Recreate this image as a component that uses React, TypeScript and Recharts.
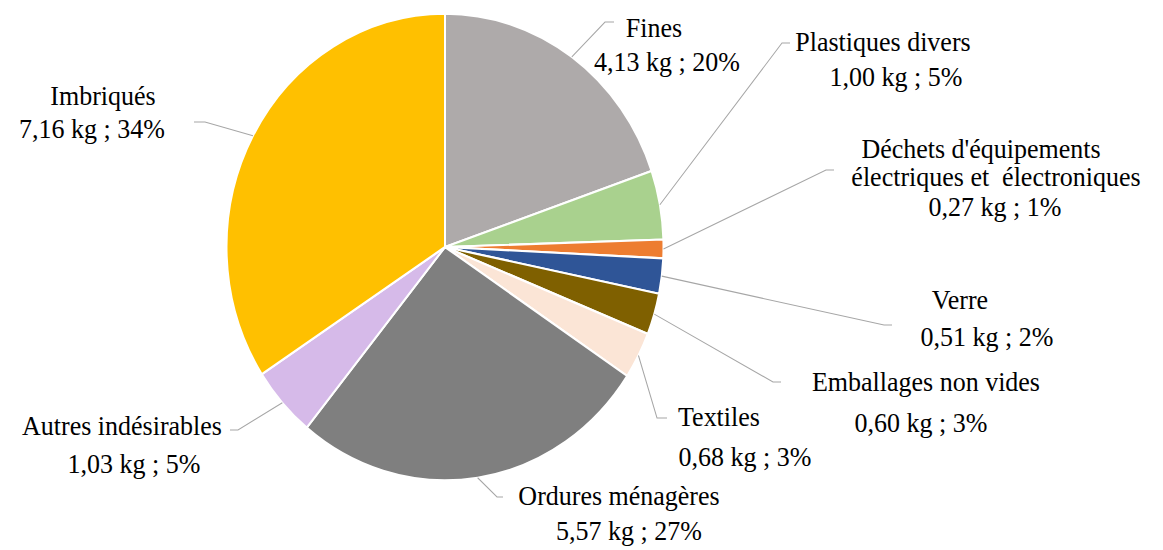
import { PieChart, Pie, Cell } from "recharts"

// waste composition, kg per sample
const categories = [
  "Fines",
  "Plastiques divers",
  "Déchets d'équipements électriques et  électroniques",
  "Verre",
  "Emballages non vides",
  "Textiles",
  "Ordures ménagères",
  "Autres indésirables",
  "Imbriqués",
]
const weightsKg = [4.13, 1.0, 0.27, 0.51, 0.6, 0.68, 5.57, 1.03, 7.16]
const sliceColors = ["#AEAAAA", "#A9D18E", "#ED7D31", "#2F5597", "#7F6000", "#FBE5D6", "#7F7F7F", "#D6BAE9", "#FFC000"]

const data = categories.map((name, i) => ({ name, value: weightsKg[i] }))

// the source picture is a bit taller than wide, so the chart gets stretched vertically
const K = 1.068
const FONT = 26
const SERIF = "Liberation Serif"

// label placement (picture pixels): line centres, baselines, leader elbow and end
const labelLayout = [
  { xs: [654, 667], ys: [37, 71], ex: 605, ey: 22, hx: 614 },
  { xs: [883, 896], ys: [51, 86], ex: 782, ey: 43, hx: 790 },
  { xs: [981, 996, 995], ys: [158, 186, 216], wrap: 2, ex: 826, ey: 170, hx: 834 },
  { xs: [960, 987], ys: [309, 346], ex: 884, ey: 325, hx: 892 },
  { xs: [926, 921], ys: [391, 432], ex: 773, ey: 382, hx: 781 },
  { xs: [719, 745], ys: [426, 466], ex: 657, ey: 418, hx: 667 },
  { xs: [619, 629], ys: [505, 540], ex: 497, ey: 497, hx: 503 },
  { xs: [122, 134], ys: [435, 473], ex: 238, ey: 430, hx: 230 },
  { xs: [103, 92], ys: [105, 138], ex: 205, ey: 122, hx: 194 },
]

const RADIAN = Math.PI / 180

const fmt = (v: number) => v.toFixed(2).replace(".", ",")

function renderLabel(props: any) {
  const { cx, cy, midAngle, outerRadius, index, value, percent, name } = props
  const l = labelLayout[index]
  const sx = cx + outerRadius * Math.cos(-midAngle * RADIAN)
  const sy = cy + outerRadius * Math.sin(-midAngle * RADIAN)
  const words = String(name).split(" ")
  const nameLines = l.wrap ? [words.slice(0, l.wrap).join(" "), words.slice(l.wrap).join(" ")] : [name]
  const lines = [...nameLines, `${fmt(value)} kg ; ${Math.round(percent * 100)}%`]
  return (
    <g key={`lbl-${index}`}>
      <polyline
        points={`${sx},${sy} ${l.ex},${l.ey / K} ${l.hx},${l.ey / K}`}
        fill="none"
        stroke="#A6A6A6"
        strokeWidth={1}
      />
      {lines.map((t, j) => (
        <text
          key={j}
          x={l.xs[j]}
          y={l.ys[j] / K}
          textAnchor="middle"
          fill="#000"
          style={{ whiteSpace: "pre", fontFamily: SERIF, fontSize: FONT }}
        >
          {t}
        </text>
      ))}
    </g>
  )
}

export default function App() {
  return (
    <div style={{ position: "absolute", left: 0, top: 0, width: 1163, height: 550, overflow: "hidden", background: "#fff" }}>
      <div style={{ transform: `scaleY(${K})`, transformOrigin: "0 0" }}>
        <PieChart width={1163} height={Math.round(550 / K)} margin={{ top: 0, right: 0, bottom: 0, left: 0 }}>
          <Pie
            data={data}
            dataKey="value"
            nameKey="name"
            cx={445}
            cy={247 / K}
            outerRadius={218.5}
            startAngle={90}
            endAngle={-270}
            stroke="#fff"
            strokeWidth={2}
            labelLine={false}
            label={renderLabel}
            isAnimationActive={false}
          >
            {data.map((d, i) => (
              <Cell key={d.name} fill={sliceColors[i]} />
            ))}
          </Pie>
        </PieChart>
      </div>
    </div>
  )
}
